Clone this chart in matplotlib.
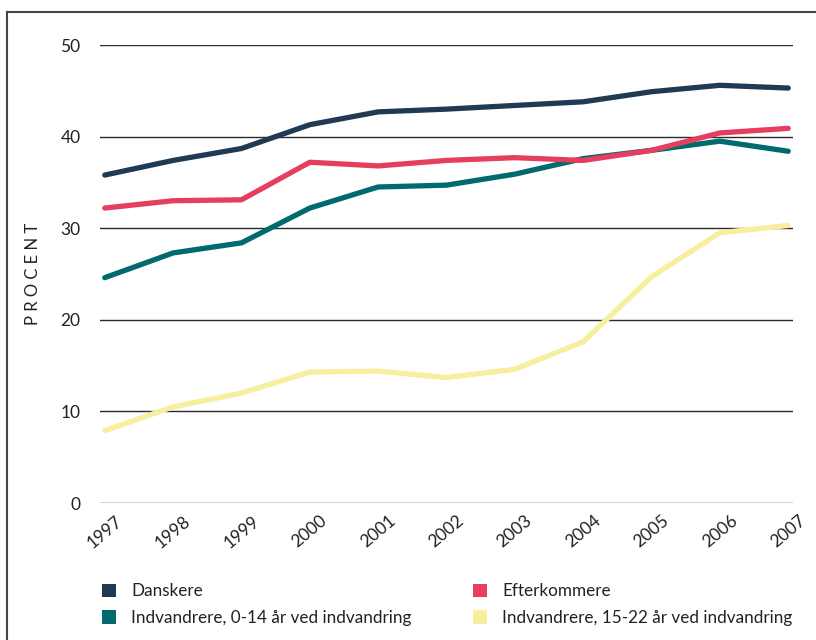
import matplotlib
matplotlib.use("Agg")
import matplotlib.pyplot as plt
from matplotlib.lines import Line2D
from matplotlib.patches import Patch

years = [1997, 1998, 1999, 2000, 2001, 2002, 2003, 2004, 2005, 2006, 2007]
danskere = [35.8, 37.4, 38.7, 41.3, 42.7, 43.0, 43.4, 43.8, 44.9, 45.6, 45.3]
efterkommere = [32.2, 33.0, 33.1, 37.2, 36.8, 37.4, 37.7, 37.4, 38.5, 40.4, 40.9]
indv_0_14 = [24.6, 27.3, 28.4, 32.2, 34.5, 34.7, 35.9, 37.6, 38.5, 39.5, 38.4]
indv_15_22 = [7.9, 10.5, 12.0, 14.3, 14.4, 13.7, 14.6, 17.6, 24.7, 29.5, 30.3]

labels = ["Danskere", "Efterkommere",
          "Indvandrere, 0-14 år ved indvandring",
          "Indvandrere, 15-22 år ved indvandring"]
colors = ["#1f3a52", "#e63e5e", "#006a6e", "#f7ee9e"]
series = [danskere, efterkommere, indv_0_14, indv_15_22]
yticks = [0, 10, 20, 30, 40, 50]

plt.rcParams['font.family'] = ['Lato', 'DejaVu Sans']

fig = plt.figure(figsize=(8.16, 6.4), dpi=100)
W, H = 816, 640
ax = fig.add_axes([100 / W, (H - 503) / H, (793 - 100) / W, (503 - 45) / H])

for y in yticks:
    ax.axhline(y, color="#2a2a2a", lw=1.0, zorder=1)

# draw order: yellow bottom, teal, pink, dark
for idx in [3, 2, 1, 0]:
    ax.plot(years, series[idx], color=colors[idx], lw=3.8,
            solid_capstyle="round", solid_joinstyle="round", zorder=3)

ax.set_xlim(1996.93, 2007.07)
ax.set_ylim(0, 50)
ax.set_yticks(yticks)
ax.set_yticklabels([str(v) for v in yticks], fontsize=12.5, color="#222222")
ax.set_xticks(years)
ax.set_xticklabels([str(y) for y in years], rotation=40, fontsize=12.5,
                   color="#222222", ha="center", va="top")
ax.tick_params(axis="both", length=0)
ax.tick_params(axis="y", pad=14)
ax.tick_params(axis="x", pad=7)
for s in ax.spines.values():
    s.set_visible(False)
ax.set_ylabel("P R O C E N T", fontsize=12, color="#222222")
ax.yaxis.set_label_coords(-(100 - 41) / (793 - 100), (503 - 274) / (503 - 45))

# figure frame (left and top)
fig.add_artist(Line2D([7 / W, 7 / W], [0, 1 - 12 / H], transform=fig.transFigure,
                      color="#444444", lw=1.5))
fig.add_artist(Line2D([7 / W, 1], [1 - 12 / H, 1 - 12 / H], transform=fig.transFigure,
                      color="#444444", lw=1.5))

order = [0, 2, 1, 3]
handles = [Patch(facecolor=colors[i], edgecolor="none") for i in order]
leg = fig.legend(handles, [labels[i] for i in order], ncol=2,
                 loc="upper left", bbox_to_anchor=(102 / W, 1 - 583 / H),
                 frameon=False, fontsize=12.3, handlelength=0.8, handleheight=0.8,
                 handletextpad=0.9, columnspacing=3.6, labelspacing=0.64,
                 borderaxespad=0, borderpad=0)
for t in leg.get_texts():
    t.set_color("#222222")

fig.savefig("out.png", dpi=100)
